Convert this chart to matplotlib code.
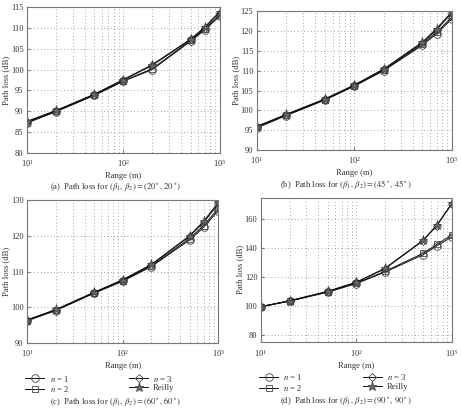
import numpy as np
import matplotlib.pyplot as plt

plt.rcParams["font.family"] = ["Liberation Serif", "DejaVu Serif"]
plt.rcParams["mathtext.fontset"] = "stix"

# Range points (m)
ranges = [10, 20, 50, 100, 200, 500, 700, 1000]
labels = [r"$n$ = 1", r"$n$ = 2", r"$n$ = 3", "Reilly"]
markers = ["o", "s", "D", "*"]

# (a) beta = (20, 20)
a_n1 = [87.2, 89.9, 93.8, 97.2, 100.0, 106.8, 109.5, 112.8]
a_n2 = [87.3, 90.0, 93.9, 97.3, 100.2, 107.0, 109.7, 113.0]
a_n3 = [87.5, 90.1, 94.0, 97.5, 101.0, 107.2, 110.0, 113.6]
a_reilly = [87.6, 90.2, 94.1, 97.6, 101.2, 107.3, 110.2, 113.9]

# (b) beta = (45, 45)
b_n1 = [95.6, 98.7, 102.6, 106.1, 110.0, 116.4, 119.3, 123.0]
b_n2 = [95.7, 98.8, 102.7, 106.2, 110.1, 116.7, 119.7, 123.4]
b_n3 = [95.9, 98.9, 102.8, 106.3, 110.3, 117.0, 120.3, 124.5]
b_reilly = [96.0, 99.0, 102.9, 106.4, 110.4, 117.2, 120.6, 124.8]

# (c) beta = (60, 60)
c_n1 = [96.2, 99.1, 103.9, 107.3, 111.4, 118.8, 122.3, 127.0]
c_n2 = [96.3, 99.2, 104.0, 107.4, 111.6, 119.2, 122.8, 127.6]
c_n3 = [96.4, 99.3, 104.1, 107.6, 111.9, 119.8, 123.7, 128.8]
c_reilly = [96.5, 99.4, 104.2, 107.7, 112.0, 120.0, 124.0, 129.3]

# (d) beta = (90, 90)
d_n1 = [99.3, 103.3, 109.5, 115.5, 123.5, 135.5, 141.8, 147.8]
d_n2 = [99.4, 103.4, 109.7, 115.8, 124.0, 136.5, 142.8, 149.3]
d_n3 = [99.5, 103.5, 110.0, 116.3, 125.8, 145.2, 155.8, 170.8]
d_reilly = [99.6, 103.6, 110.1, 116.5, 126.2, 145.6, 156.3, 171.2]

panels = [
    {"rect": [0.0586, 0.625, 0.418, 0.358], "data": [a_n1, a_n2, a_n3, a_reilly],
     "ylim": (80, 115), "yticks": np.arange(80, 116, 5), "angle": "20",
     "cap_xy": (0.25, 0.542), "legend": False, "tickpad": 3.5},
    {"rect": [0.557, 0.632, 0.423, 0.341], "data": [b_n1, b_n2, b_n3, b_reilly],
     "ylim": (90, 125), "yticks": np.arange(90, 126, 5), "angle": "45",
     "cap_xy": (0.75, 0.549), "legend": False, "tickpad": 3.5},
    {"rect": [0.0586, 0.159, 0.415, 0.351], "data": [c_n1, c_n2, c_n3, c_reilly],
     "ylim": (90, 130), "yticks": np.arange(90, 131, 10), "angle": "60",
     "cap_xy": (0.25, 0.017), "legend": True, "tickpad": 3.5},
    {"rect": [0.566, 0.162, 0.414, 0.353], "data": [d_n1, d_n2, d_n3, d_reilly],
     "ylim": (75, 175), "yticks": np.arange(80, 161, 20), "angle": "90",
     "cap_xy": (0.75, 0.017), "legend": True, "tickpad": 4.5},
]

fig = plt.figure(figsize=(4.61, 4.08), dpi=100)

for idx, p in enumerate(panels):
    ax = fig.add_axes(p["rect"])
    for k in range(4):
        msize = {"o": 5.5, "s": 5.0, "D": 4.3, "*": 6.5}[markers[k]]
        ax.plot(ranges, p["data"][k], color="#111111", linewidth=0.7,
                marker=markers[k], markersize=msize,
                markerfacecolor="none" if k < 3 else "#666666",
                markeredgecolor="#444444", markeredgewidth=0.6,
                label=labels[k])
    ax.set_xscale("log")
    ax.set_xlim(10, 1000)
    ax.set_ylim(*p["ylim"])
    ax.set_yticks(p["yticks"])
    ax.grid(True, which="major", linestyle=(0, (1, 3)), color="#888888",
            linewidth=0.6)
    ax.grid(True, which="minor", axis="x", linestyle=(0, (1, 3)),
            color="#888888", linewidth=0.6)
    ax.tick_params(which="both", direction="in", length=2, labelsize=6,
                   color="#777777", labelcolor="#333333")
    ax.tick_params(axis="y", pad=2.5)
    ax.tick_params(axis="x", pad=p["tickpad"])
    ax.tick_params(which="minor", length=1)
    for s in ax.spines.values():
        s.set_color("#777777")
        s.set_linewidth(0.8)
    ax.set_xlabel("Range (m)", fontsize=6.2, color="#333333", labelpad=2)
    ax.set_ylabel("Path loss (dB)", fontsize=6.2, color="#333333", labelpad=0.5)
    if p["legend"]:
        ax.legend(loc="upper left", bbox_to_anchor=(-0.04, -0.17), ncol=2,
                  frameon=False, fontsize=6.2, columnspacing=7.0,
                  handlelength=2.2, labelspacing=0.05, handletextpad=0.6,
                  borderpad=0.2, labelcolor="#333333")
    letter = "abcd"[idx]
    ang = p["angle"]
    fig.text(p["cap_xy"][0], p["cap_xy"][1],
             "(" + letter + ")  Path loss for "
             + r"$(\beta_1,\, \beta_2) = (" + ang + r"^\circ,\, " + ang
             + r"^\circ)$",
             ha="center", va="center", fontsize=6.2, color="#333333")

fig.savefig("out.png", dpi=100)
